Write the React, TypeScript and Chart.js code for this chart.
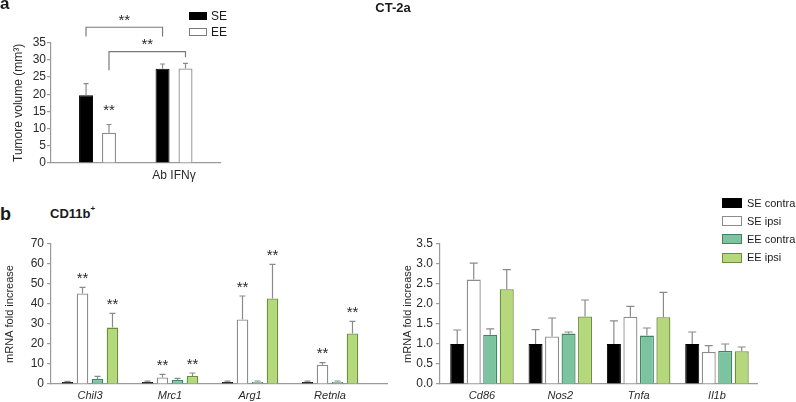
import React, { useEffect, useRef } from 'react';
import { Chart, registerables } from 'chart.js';

Chart.register(...registerables);

const FONT = '"Liberation Sans", Arial, Helvetica, sans-serif';
Chart.defaults.font.family = FONT;

// ---------------- Panel a : CT-2a tumour volume ----------------
const aGroupLabels = ['', 'Ab IFNγ'];
const aSeriesNames = ['SE', 'EE'];
const aSE = [19.7, 27.4];
const aSEErr = [3.4, 1.4];
const aEE = [8.8, 27.5];
const aEEErr = [2.4, 1.5];
const aSEStars = [false, false];
const aEEStars = [true, false];
const aYTicks = [0, 5, 10, 15, 20, 25, 30, 35];
// significance brackets (dataset index, bar index) and heights in data units
const aBracketFrom = [[0, 0], [1, 0]];
const aBracketTo = [[0, 1], [1, 1]];
const aBracketTop = [39.5, 32.4];
const aBracketLeftEnd = [36.8, 27.0];
const aBracketRightEnd = [36.8, 30.8];
const aBracketText = ['**', '**'];

// ---------------- Panel b : CD11b+ mRNA ----------------
const bSeriesNames = ['SE contra', 'SE ipsi', 'EE contra', 'EE ipsi'];

const bLeftGenes = ['Chil3', 'Mrc1', 'Arg1', 'Retnla'];
const bLeftSEcontra = [1, 1, 1, 1];
const bLeftSEcontraErr = [0.3, 0.4, 0.4, 0.4];
const bLeftSEipsi = [45.3, 3.3, 32.3, 9.6];
const bLeftSEipsiErr = [3.0, 1.5, 11.7, 1.1];
const bLeftEEcontra = [2.5, 2.0, 1.1, 1.1];
const bLeftEEcontraErr = [1.3, 0.8, 0.4, 0.4];
const bLeftEEipsi = [28.2, 4.0, 42.8, 25.3];
const bLeftEEipsiErr = [7.1, 1.5, 17.0, 6.0];
const bLeftSEipsiStars = [true, true, true, true];
const bLeftEEipsiStars = [true, true, true, true];
const bLeftYTicks = [0, 10, 20, 30, 40, 50, 60, 70];

const bRightGenes = ['Cd86', 'Nos2', 'Tnfa', 'Il1b'];
const bRightSEcontra = [1.0, 1.0, 1.0, 1.0];
const bRightSEcontraErr = [0.35, 0.36, 0.58, 0.3];
const bRightSEipsi = [2.61, 1.19, 1.68, 0.8];
const bRightSEipsiErr = [0.41, 0.46, 0.26, 0.16];
const bRightEEcontra = [1.23, 1.26, 1.21, 0.825];
const bRightEEcontraErr = [0.15, 0.04, 0.19, 0.175];
const bRightEEipsi = [2.37, 1.69, 1.67, 0.82];
const bRightEEipsiErr = [0.49, 0.41, 0.62, 0.105];
const bRightYTicks = [0, 0.5, 1.0, 1.5, 2.0, 2.5, 3.0, 3.5];

// ---------------- styles ----------------
const bFill = ['#000000', '#ffffff', '#7cc4a0', '#b5d87c'];
const bBorder = ['#000000', '#8c8c8c', '#3f8463', '#6b8f3c'];
const AXIS = '#9a9a9a';
const ERR = '#8a8a8a';
const TEXT = '#2a2a2a';

function drawStars(ctx: CanvasRenderingContext2D, x: number, cy: number, size: number) {
  ctx.save();
  ctx.font = `${size}px ${FONT}`;
  ctx.fillStyle = TEXT;
  ctx.textAlign = 'center';
  ctx.textBaseline = 'alphabetic';
  ctx.fillText('**', x, cy + size * 0.57);
  ctx.restore();
}

function makeErrorPlugin(cap: number, starGap: number, starSize: number) {
  return {
    id: 'errorbars',
    afterDatasetsDraw(chart: any) {
      const ctx = chart.ctx as CanvasRenderingContext2D;
      const ys = chart.scales.y;
      chart.data.datasets.forEach((ds: any, di: number) => {
        const meta = chart.getDatasetMeta(di);
        meta.data.forEach((bar: any, i: number) => {
          const v = ds.data[i].y;
          const e = ds.errors ? ds.errors[i] : 0;
          const top = ys.getPixelForValue(v + e);
          if (e > 0) {
            ctx.save();
            ctx.strokeStyle = ERR;
            ctx.lineWidth = 1.2;
            ctx.beginPath();
            ctx.moveTo(bar.x, bar.y);
            ctx.lineTo(bar.x, top);
            ctx.moveTo(bar.x - cap / 2, top);
            ctx.lineTo(bar.x + cap / 2, top);
            ctx.stroke();
            ctx.restore();
          }
          if (ds.stars && ds.stars[i]) drawStars(ctx, bar.x, top - starGap, starSize);
        });
      });
    },
  };
}

const bracketPlugin = {
  id: 'brackets',
  afterDatasetsDraw(chart: any) {
    const ctx = chart.ctx as CanvasRenderingContext2D;
    const ys = chart.scales.y;
    aBracketFrom.forEach((from, k) => {
      const to = aBracketTo[k];
      const x1 = chart.getDatasetMeta(from[0]).data[from[1]].x;
      const x2 = chart.getDatasetMeta(to[0]).data[to[1]].x;
      const yt = ys.getPixelForValue(aBracketTop[k]);
      const yl = ys.getPixelForValue(aBracketLeftEnd[k]);
      const yr = ys.getPixelForValue(aBracketRightEnd[k]);
      ctx.save();
      ctx.strokeStyle = '#7a7a7a';
      ctx.lineWidth = 1.2;
      ctx.beginPath();
      ctx.moveTo(x1, yl);
      ctx.lineTo(x1, yt);
      ctx.lineTo(x2, yt);
      ctx.lineTo(x2, yr);
      ctx.stroke();
      ctx.restore();
      if (aBracketText[k]) drawStars(ctx, (x1 + x2) / 2, yt - 10.7, 15);
    });
  },
};

function buildConfig(p: any) {
  return {
    type: 'bar',
    data: { datasets: p.datasets },
    plugins: p.plugins,
    options: {
      responsive: false,
      animation: false,
      events: [],
      layout: { padding: p.padding },
      plugins: { legend: { display: false }, tooltip: { enabled: false } },
      datasets: { bar: { categoryPercentage: p.cp, barPercentage: p.bp } },
      scales: {
        x: {
          type: 'linear',
          min: p.xMin,
          max: p.xMax,
          offset: false,
          grid: { display: false, drawTicks: false, offset: false },
          border: { display: true, color: AXIS, width: 1.2 },
          ticks: {
            stepSize: 1,
            includeBounds: false,
            autoSkip: false,
            maxRotation: 0,
            padding: p.xPad,
            color: TEXT,
            font: { size: p.xTickSize, style: p.xItalic ? 'italic' : 'normal', family: FONT },
            callback: (v: number) => (p.xLabels[v] !== undefined ? p.xLabels[v] : ''),
          },
          afterFit: (s: any) => {
            s.height = p.xHeight;
          },
        },
        y: {
          min: 0,
          max: p.yTicks[p.yTicks.length - 1],
          grid: { display: true, drawOnChartArea: false, drawTicks: true, tickLength: 4, color: AXIS, lineWidth: 1.2 },
          border: { display: true, color: AXIS, width: 1.2 },
          ticks: {
            stepSize: p.yTicks[1] - p.yTicks[0],
            autoSkip: false,
            padding: p.yPad,
            color: TEXT,
            font: { size: p.tickSize, family: FONT },
            callback: (v: number) => (p.yDecimals ? Number(v).toFixed(p.yDecimals) : String(v)),
          },
          title: {
            display: true,
            text: p.title,
            color: TEXT,
            font: { size: p.titleSize, family: FONT },
            padding: { top: p.titlePad, bottom: 0 },
          },
          afterFit: (s: any) => {
            s.width = p.yWidth;
          },
        },
      },
    },
  };
}

const pts = (vals: number[]) => vals.map((v, i) => ({ x: i, y: v }));

function makePanelA() {
  const datasets = [
    { label: aSeriesNames[0], data: pts(aSE), errors: aSEErr, stars: aSEStars, backgroundColor: '#000', borderColor: '#000', borderWidth: 1 },
    { label: aSeriesNames[1], data: pts(aEE), errors: aEEErr, stars: aEEStars, backgroundColor: '#fff', borderColor: '#8c8c8c', borderWidth: 1.3 },
  ];
  return buildConfig({
    datasets,
    plugins: [makeErrorPlugin(5, 18.3, 15), bracketPlugin],
    padding: { top: 42.7, right: 10, bottom: 0, left: 0 },
    cp: 0.6,
    bp: 0.61,
    xMin: -0.608,
    xMax: 1.601,
    xLabels: aGroupLabels,
    xPad: 5,
    xTickSize: 12,
    xItalic: false,
    xHeight: 22,
    yTicks: aYTicks,
    yDecimals: 0,
    yPad: 1,
    tickSize: 12,
    title: 'Tumore volume (mm³)',
    titleSize: 12,
    titlePad: 11.8,
    yWidth: 51,
  });
}

function bDatasets(vals: number[][], errs: number[][], stars: (boolean[] | null)[]) {
  return vals.map((v, k) => ({
    label: bSeriesNames[k],
    data: pts(v),
    errors: errs[k],
    stars: stars[k],
    backgroundColor: bFill[k],
    borderColor: bBorder[k],
    borderWidth: k === 0 ? 1 : 1.3,
  }));
}

function makeBLeft() {
  return buildConfig({
    datasets: bDatasets(
      [bLeftSEcontra, bLeftSEipsi, bLeftEEcontra, bLeftEEipsi],
      [bLeftSEcontraErr, bLeftSEipsiErr, bLeftEEcontraErr, bLeftEEipsiErr],
      [null, bLeftSEipsiStars, null, bLeftEEipsiStars]
    ),
    plugins: [makeErrorPlugin(6, 13, 15)],
    padding: { top: 14, right: 13, bottom: 0, left: 0 },
    cp: 0.75,
    bp: 0.77,
    xMin: -0.4875,
    xMax: 3.7125,
    xLabels: bLeftGenes,
    xPad: 5,
    xTickSize: 11,
    xItalic: true,
    xHeight: 18,
    yTicks: bLeftYTicks,
    yDecimals: 0,
    yPad: 3,
    tickSize: 12,
    title: 'mRNA fold increase',
    titleSize: 11,
    titlePad: 3.4,
    yWidth: 51,
  });
}

function makeBRight() {
  return buildConfig({
    datasets: bDatasets(
      [bRightSEcontra, bRightSEipsi, bRightEEcontra, bRightEEipsi],
      [bRightSEcontraErr, bRightSEipsiErr, bRightEEcontraErr, bRightEEipsiErr],
      [null, null, null, null]
    ),
    plugins: [makeErrorPlugin(8, 13, 15)],
    padding: { top: 14, right: 39, bottom: 0, left: 0 },
    cp: 0.8426,
    bp: 0.85,
    xMin: -0.536,
    xMax: 3.511,
    xLabels: bRightGenes,
    xPad: 5,
    xTickSize: 11,
    xItalic: true,
    xHeight: 18,
    yTicks: bRightYTicks,
    yDecimals: 1,
    yPad: 3,
    tickSize: 12,
    title: 'mRNA fold increase',
    titleSize: 11,
    titlePad: 6.4,
    yWidth: 45,
  });
}

function ChartCanvas(props: { left: number; top: number; width: number; height: number; make: () => any }) {
  const ref = useRef<HTMLCanvasElement>(null);
  useEffect(() => {
    const chart = new Chart(ref.current as HTMLCanvasElement, props.make());
    return () => chart.destroy();
  }, []);
  return (
    <canvas
      ref={ref}
      width={props.width}
      height={props.height}
      style={{ position: 'absolute', left: props.left, top: props.top, width: props.width, height: props.height }}
    />
  );
}

function Txt(props: { x: number; y: number; size: number; bold?: boolean; center?: boolean; children: any }) {
  return (
    <div
      style={{
        position: 'absolute',
        left: props.x,
        top: props.y,
        fontSize: props.size,
        fontWeight: props.bold ? 'bold' : 'normal',
        lineHeight: 1,
        whiteSpace: 'nowrap',
        color: '#1a1a1a',
        fontFamily: FONT,
        transform: props.center ? 'translateX(-50%)' : undefined,
      }}
    >
      {props.children}
    </div>
  );
}

function Box(props: { x: number; y: number; w: number; h: number; fill: string; border: string }) {
  return (
    <div
      style={{
        position: 'absolute',
        left: props.x,
        top: props.y,
        width: props.w,
        height: props.h,
        background: props.fill,
        border: `1px solid ${props.border}`,
        boxSizing: 'border-box',
      }}
    />
  );
}

const aLegendFill = ['#000000', '#ffffff'];
const aLegendBorder = ['#000000', '#7a7a7a'];

export default function App() {
  return (
    <div style={{ position: 'fixed', left: 0, top: 0, width: 796, height: 402, overflow: 'hidden', background: '#fff' }}>
      <ChartCanvas left={0} top={0} width={230} height={185} make={makePanelA} />
      <ChartCanvas left={0} top={230} width={400} height={172} make={makeBLeft} />
      <ChartCanvas left={395} top={230} width={401} height={172} make={makeBRight} />

      <Txt x={0} y={-5} size={17} bold>a</Txt>
      <Txt x={393} y={1} size={13} bold center>CT-2a</Txt>
      {aSeriesNames.map((n, k) => (
        <React.Fragment key={n}>
          <Box x={189} y={12 + k * 16} w={18} h={8} fill={aLegendFill[k]} border={aLegendBorder[k]} />
          <Txt x={211} y={10 + k * 16} size={12}>{n}</Txt>
        </React.Fragment>
      ))}

      <Txt x={0} y={205} size={18} bold>b</Txt>
      <Txt x={50} y={207} size={13} bold>
        CD11b<span style={{ fontSize: 8, verticalAlign: 'top', position: 'relative', top: -2 }}>+</span>
      </Txt>
      {bSeriesNames.map((n, k) => (
        <React.Fragment key={n}>
          <Box x={722} y={198 + k * 18.2} w={20} h={10} fill={bFill[k]} border={bBorder[k]} />
          <Txt x={747} y={197.5 + k * 18.2} size={11}>{n}</Txt>
        </React.Fragment>
      ))}
    </div>
  );
}
